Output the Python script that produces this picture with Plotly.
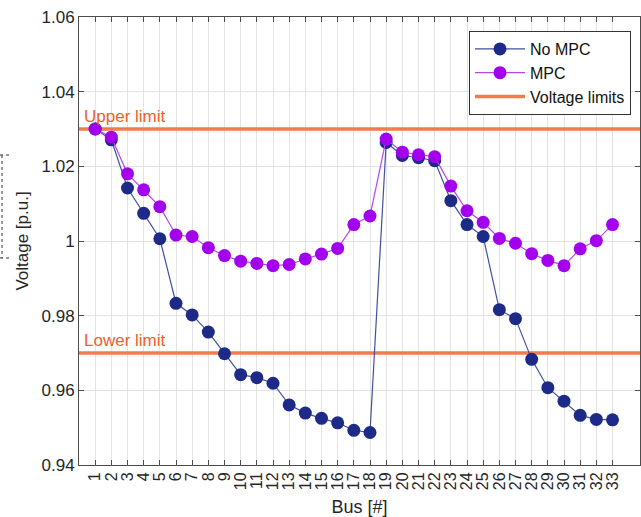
import plotly.graph_objects as go

buses = list(range(1, 34))
no_mpc = [1.0300, 1.0271, 1.0142, 1.0074, 1.0006, 0.9833, 0.9802, 0.9756, 0.9698, 0.9642,
          0.9634, 0.9619, 0.9561, 0.9539, 0.9525, 0.9513, 0.9493, 0.9487, 1.0264, 1.0229,
          1.0223, 1.0215, 1.0108, 1.0044, 1.0012, 0.9816, 0.9792, 0.9683, 0.9607, 0.9571,
          0.9533, 0.9522, 0.9521]
mpc = [1.0300, 1.0278, 1.0180, 1.0137, 1.0092, 1.0016, 1.0012, 0.9982, 0.9961, 0.9946,
       0.9940, 0.9934, 0.9937, 0.9952, 0.9965, 0.9980, 1.0044, 1.0067, 1.0273, 1.0238,
       1.0231, 1.0226, 1.0147, 1.0081, 1.0050, 1.0007, 0.9994, 0.9966, 0.9948, 0.9934,
       0.9979, 1.0001, 1.0044]
upper_limit = 1.03
lower_limit = 0.97
x_range = [0, 34.7]
y_ticks = [0.94, 0.96, 0.98, 1.00, 1.02, 1.04, 1.06]
y_tick_labels = ["0.94", "0.96", "0.98", "1", "1.02", "1.04", "1.06"]

NAVY = "#1d2a87"
VIOLET = "#a300ee"
LIMIT = "#f47a4c"
LIMIT_TXT = "#f0602a"
FONT = "Liberation Sans, Arial"

fig = go.Figure()
fig.add_trace(go.Scatter(
    x=[x_range[0], x_range[1], None, x_range[0], x_range[1]],
    y=[upper_limit, upper_limit, None, lower_limit, lower_limit],
    mode="lines", line=dict(color=LIMIT, width=3.5),
    name="Voltage limits", legendrank=3, cliponaxis=True, hoverinfo="skip"))
fig.add_trace(go.Scatter(
    x=buses, y=no_mpc, mode="lines+markers", name="No MPC", legendrank=1,
    line=dict(color="#4150a0", width=1.2),
    marker=dict(color=NAVY, size=13, line=dict(width=0))))
fig.add_trace(go.Scatter(
    x=buses, y=mpc, mode="lines+markers", name="MPC", legendrank=2,
    line=dict(color="#b34ae8", width=1.2),
    marker=dict(color=VIOLET, size=13, line=dict(width=0))))

for yv, txt in [(upper_limit, "Upper limit"), (lower_limit, "Lower limit")]:
    fig.add_annotation(x=x_range[0], y=yv, xref="x", yref="y", text=txt,
                       showarrow=False, xanchor="left", yanchor="bottom", xshift=3, yshift=1,
                       font=dict(color=LIMIT_TXT, size=17, family=FONT))

# dotted crop-box remnant at left edge
L, R, T, B = 79, 1, 17, 52
W, H = 641, 517
pw, ph = W - L - R, H - T - B
def px(xp): return (xp - L) / pw
def py(yp): return (H - B - yp) / ph
dot = dict(color="#333", width=1, dash="dot")
fig.add_shape(type="line", xref="paper", yref="paper", x0=px(2), x1=px(2), y0=py(155), y1=py(258), line=dot)
fig.add_shape(type="line", xref="paper", yref="paper", x0=px(0), x1=px(9), y0=py(155), y1=py(155), line=dot)
fig.add_shape(type="line", xref="paper", yref="paper", x0=px(0), x1=px(9), y0=py(258), y1=py(258), line=dot)

axis_common = dict(showline=True, linecolor="#4d4d4d", linewidth=1, mirror="ticks",
                   ticks="inside", ticklen=5, tickcolor="#4d4d4d", automargin=False,
                   showgrid=True, gridcolor="#e3e3e3", gridwidth=1, zeroline=False)
fig.update_xaxes(range=x_range, tickvals=buses, ticktext=[str(b) for b in buses],
                 tickangle=-90, tickfont=dict(size=16, color="#262626", family=FONT),
                 title=dict(text="Bus [#]", standoff=12,
                 font=dict(size=18, color="#262626", family=FONT)),
                 **axis_common)
fig.update_yaxes(range=[0.94, 1.06], tickvals=y_ticks, ticktext=y_tick_labels,
                 tickfont=dict(size=17, color="#262626", family=FONT),
                 title=dict(text="Voltage [p.u.]", standoff=8,
                 font=dict(size=17, color="#262626", family=FONT)),
                 **axis_common)

fig.update_layout(
    width=W, height=H, margin=dict(l=L, r=R, t=T, b=B),
    paper_bgcolor="white", plot_bgcolor="white",
    showlegend=True,
    legend=dict(x=px(631), y=py(31), xanchor="right", yanchor="top",
                bgcolor="white", bordercolor="#333", borderwidth=1,
                font=dict(size=16, color="#111", family=FONT),
                itemwidth=50, tracegroupgap=0),
    font=dict(family=FONT),
)
fig.write_html("out.html", config={"displayModeBar": False},
               post_script="document.body.style.margin='0';document.body.style.overflow='hidden';")
